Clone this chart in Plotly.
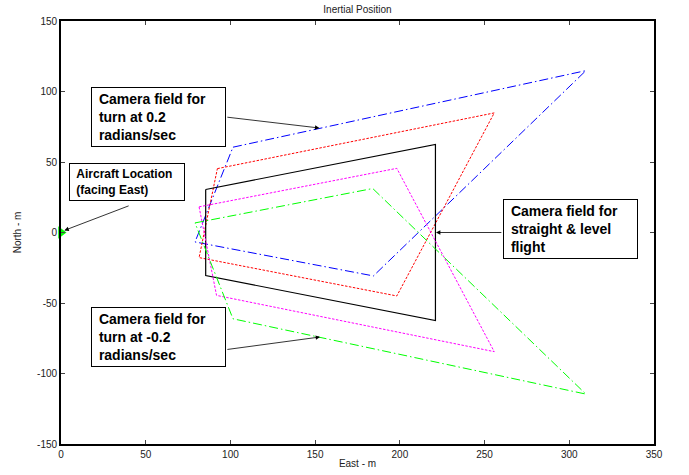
import plotly.graph_objects as go

# Camera field polygons (East, North in metres), closed
level_x = [85.4, 221.0, 221.0, 85.4, 85.4]
level_y = [30.5, 62.5, -62.5, -30.5, 30.5]

red_x = [92.3, 255.7, 198.2, 81.5, 92.3]
red_y = [45.3, 84.8, -45.0, -17.8, 45.3]

magenta_x = [81.5, 198.2, 255.7, 91.8, 81.5]
magenta_y = [18.2, 45.5, -84.5, -44.6, 18.2]

blue_x = [101.5, 309.8, 184.4, 79.1, 101.5]
blue_y = [60.5, 114.8, -30.8, -6.7, 60.5]

green_x = [79.1, 184.0, 309.8, 101.5, 79.1]
green_y = [6.8, 31.2, -114.6, -61.2, 6.8]

aircraft_x = [0]
aircraft_y = [0]

x_ticks = [0, 50, 100, 150, 200, 250, 300, 350]
y_ticks = [-150, -100, -50, 0, 50, 100, 150]

fig = go.Figure()

fig.add_trace(go.Scatter(x=blue_x, y=blue_y, mode="lines",
                         line=dict(color="#0000ff", width=1, dash="9px,3px,1.5px,3px"),
                         showlegend=False, hoverinfo="skip"))
fig.add_trace(go.Scatter(x=red_x, y=red_y, mode="lines",
                         line=dict(color="#ff0000", width=1, dash="2.5px,1.5px"),
                         showlegend=False, hoverinfo="skip"))
fig.add_trace(go.Scatter(x=level_x, y=level_y, mode="lines",
                         line=dict(color="#000000", width=1.2),
                         showlegend=False, hoverinfo="skip"))
fig.add_trace(go.Scatter(x=magenta_x, y=magenta_y, mode="lines",
                         line=dict(color="#ff00ff", width=1, dash="2.5px,1.5px"),
                         showlegend=False, hoverinfo="skip"))
fig.add_trace(go.Scatter(x=green_x, y=green_y, mode="lines",
                         line=dict(color="#00ff00", width=1, dash="9px,3px,1.5px,3px"),
                         showlegend=False, hoverinfo="skip"))
fig.add_trace(go.Scatter(x=aircraft_x, y=aircraft_y, mode="markers",
                         marker=dict(symbol="triangle-right", size=11, color="#00ff00",
                                     line=dict(width=0)),
                         cliponaxis=False, showlegend=False, hoverinfo="skip"))

NB = "&nbsp;"
boxes = [
    dict(x=57.3, y=82.2, text="<b>" + NB + "Camera field for<br>" + NB + "turn at 0.2<br>" + NB + "radians/sec</b>", w=127, h=52, fs=14),
    dict(x=39.2, y=35.8, text="<b>" + NB + "Aircraft Location<br>" + NB + "(facing East)</b>", w=108, h=30, fs=12),
    dict(x=300.9, y=2.8, text="<b>" + NB + "Camera field for<br>" + NB + "straight &amp; level<br>" + NB + "flight</b>", w=127, h=52, fs=14),
    dict(x=57.3, y=-74.3, text="<b>" + NB + "Camera field for<br>" + NB + "turn at -0.2<br>" + NB + "radians/sec</b>", w=127, h=52, fs=14),
]

arrows = [
    dict(x=152.5, y=74.1, ax=97.3, ay=81.9),
    dict(x=2.0, y=1.5, ax=40.8, ay=19.3),
    dict(x=221.3, y=0.0, ax=260.8, ay=0.0),
    dict(x=152.9, y=-74.1, ax=97.3, ay=-83.1),
]

for a in arrows:
    fig.add_annotation(x=a["x"], y=a["y"], ax=a["ax"], ay=a["ay"], xref="x", yref="y",
                       axref="x", ayref="y", text="", showarrow=True, arrowhead=2,
                       arrowsize=1.1, arrowwidth=0.8, arrowcolor="black", standoff=0,
                       startstandoff=0)

for b in boxes:
    fig.add_annotation(x=b["x"], y=b["y"], xref="x", yref="y", text=b["text"],
                       showarrow=False, align="left", width=b["w"], height=b["h"],
                       bgcolor="white", bordercolor="black", borderwidth=1, borderpad=3,
                       font=dict(family="Arial, Liberation Sans, sans-serif", size=b["fs"],
                                 color="black"))

axis_font = dict(family="Arial, Liberation Sans, sans-serif", size=10, color="#222222")

fig.update_layout(
    width=689, height=475,
    margin=dict(l=61, r=35, t=21, b=31, autoexpand=False),
    paper_bgcolor="white", plot_bgcolor="white",
    title=dict(text="Inertial Position", x=0.5, xref="paper", xanchor="center",
               y=1, yref="paper", yanchor="bottom", pad=dict(b=8),
               font=dict(family="Arial, Liberation Sans, sans-serif", size=10, color="#222222")),
    xaxis=dict(range=[0, 350], tickvals=x_ticks, ticktext=[str(v) for v in x_ticks],
               showgrid=False, zeroline=False, showline=True, linecolor="black",
               linewidth=1.8, mirror="ticks", ticks="inside", ticklen=4, tickcolor="#444444",
               tickfont=axis_font, ticklabelstandoff=0, automargin=False,
               title=dict(text="East - m", font=axis_font, standoff=1)),
    yaxis=dict(range=[-150, 150], tickvals=y_ticks, ticktext=[str(v) for v in y_ticks],
               showgrid=False, zeroline=False, showline=True, linecolor="black",
               linewidth=1.8, mirror="ticks", ticks="inside", ticklen=4, tickcolor="#444444",
               tickfont=axis_font, automargin=False,
               title=dict(text="North - m", font=axis_font, standoff=14)),
)

fig.write_html("out.html")
